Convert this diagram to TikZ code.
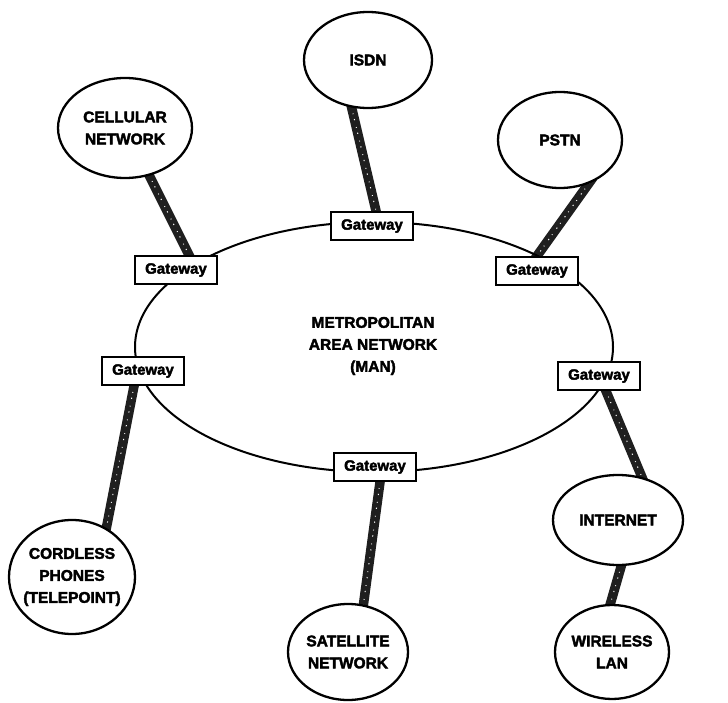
\documentclass[tikz,border=0pt]{standalone}
\usepackage{fontspec}
\setmainfont{Liberation Sans}
\newfontfamily\lblfont{Liberation Sans Bold}[FakeBold=2.5]
\usetikzlibrary{shapes.geometric}
\pgfdeclarelayer{bg}
\pgfsetlayers{bg,main}
\begin{document}
\begin{tikzpicture}[x=1pt,y=-1pt,
  net/.style={draw, fill=white, line width=2.3pt, ellipse, inner sep=0pt},
  lbl/.style={font=\lblfont\fontsize{15.5}{22}\selectfont, align=center, inner sep=0pt},
  gw/.style={draw, line width=2.2pt, fill=white, minimum width=82pt, minimum height=28pt, inner sep=0pt, font=\lblfont\fontsize{15}{16}\selectfont},
  link/.style={line width=9.5pt, draw=black!88, shorten <=-8pt, shorten >=-8pt,
    postaction={draw=white, line width=1pt, dash pattern=on 0.8pt off 5pt on 1.2pt off 7pt}}]
\useasboundingbox (0,0) rectangle (728,703);
% central MAN
\node[draw, ellipse, line width=2pt, minimum width=478pt, minimum height=250pt] (man) at (374,347) {};
\node[lbl] (mant) at (373,346) {METROPOLITAN\\AREA NETWORK\\(MAN)};
% outer networks
\node[net, minimum width=128pt, minimum height=96pt] (isdn) at (368,60) {};
\node[lbl] at (isdn) {ISDN};
\node[net, minimum width=134pt, minimum height=100pt] (cell) at (125,128) {};
\node[lbl] at (cell) {CELLULAR\\NETWORK};
\node[net, minimum width=124pt, minimum height=96pt] (pstn) at (560,140) {};
\node[lbl] at (pstn) {PSTN};
\node[net, minimum width=126pt, minimum height=114pt] (cord) at (72,577) {};
\node[lbl] at (cord) {CORDLESS\\PHONES\\(TELEPOINT)};
\node[net, minimum width=120pt, minimum height=96pt] (sat) at (348,652) {};
\node[lbl] at (sat) {SATELLITE\\NETWORK};
\node[net, minimum width=130pt, minimum height=90pt] (inet) at (618,520) {};
\node[lbl] at (inet) {INTERNET};
\node[net, minimum width=114pt, minimum height=94pt] (wlan) at (612,652) {};
\node[lbl] at (wlan) {WIRELESS\\LAN};
% gateways
\node[gw] (gT) at (372,226) {Gateway};
\node[gw] (gUL) at (176,270) {Gateway};
\node[gw] (gUR) at (537,271) {Gateway};
\node[gw] (gL) at (143,371) {Gateway};
\node[gw] (gR) at (599,376) {Gateway};
\node[gw] (gB) at (375,467) {Gateway};
% links (drawn under all nodes)
\begin{pgfonlayer}{bg}
\draw[link] (isdn.-109) -- ([xshift=4pt]gT.north);
\draw[link] (cell.-63) -- ([xshift=13pt]gUL.north);
\draw[link] (pstn.-57) -- ([xshift=0pt]gUR.north);
\draw[link] ([xshift=-9pt]gL.south) -- (cord.55);
\draw[link] ([xshift=5pt]gB.south) -- (sat.72);
\draw[link] ([xshift=7pt]gR.south) -- (inet.61);
\draw[link] (inet.-86) -- (wlan.92);
\end{pgfonlayer}
\end{tikzpicture}
\end{document}
